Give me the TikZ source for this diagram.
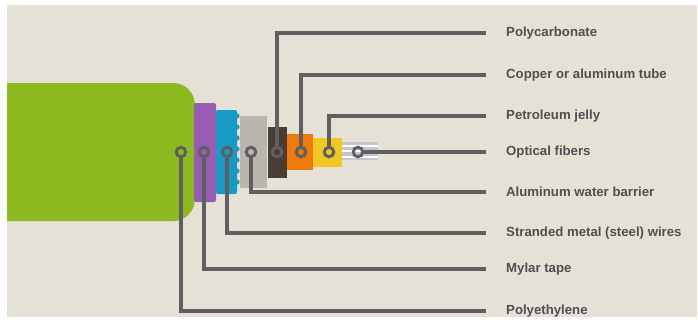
\documentclass[tikz,border=0pt]{standalone}
\usepackage{fontspec}
\setmainfont{Liberation Sans}
\begin{document}
\definecolor{paper}{RGB}{230,225,214}
\definecolor{jacket}{RGB}{141,186,30}
\definecolor{mylar}{RGB}{152,92,180}
\definecolor{steel}{RGB}{22,155,196}
\definecolor{alu}{RGB}{186,181,170}
\definecolor{polyc}{RGB}{74,62,52}
\definecolor{tube}{RGB}{240,121,12}
\definecolor{jelly}{RGB}{240,200,32}
\definecolor{fiber}{RGB}{196,198,204}
\definecolor{leader}{RGB}{95,95,97}
\definecolor{ink}{RGB}{80,80,80}
\begin{tikzpicture}[x=1pt,y=-1pt,
  ring/.style={circle,draw=leader,line width=3pt,minimum size=9.5pt,inner sep=0pt},
  lead/.style={draw=leader,line width=3.1pt},
  tag/.style={anchor=west,inner sep=0pt,text=ink,font=\bfseries\fontsize{13.2}{15}\selectfont}]
\useasboundingbox (0,0) rectangle (698,321);
\fill[white] (0,0) rectangle (698,321);
\fill[paper] (7,5) rectangle (697,317);

% cable layers, outermost to innermost
\fill[jacket] (7,83) [rounded corners=22pt] -- (195,83) -- (195,221) [sharp corners] -- (7,221) -- cycle;
\fill[mylar, rounded corners=2pt] (194,103) rectangle (216,202);
\fill[steel, rounded corners=2pt] (216,110) rectangle (237,194);
\foreach \yy in {116,127,138,149,160,171,182} \fill[steel] (237,\yy) circle[radius=2.6];
\fill[alu] (239.5,116) rectangle (267,188);
\fill[polyc] (268,127) rectangle (287,178);
\fill[tube] (287,134) rectangle (313,170);
\fill[jelly] (313,138) rectangle (342,167);
\fill[fiber] (342,142) rectangle (378,160);
\foreach \yy in {145.5,151,156.5} \draw[white,line width=2pt] (342,\yy) -- (378,\yy);

% marker rings
\node[ring] (c1) at (181,152) {};
\node[ring] (c2) at (204,152) {};
\node[ring] (c3) at (227,152) {};
\node[ring] (c4) at (251,152) {};
\node[ring] (c5) at (277,152) {};
\node[ring] (c6) at (301,152) {};
\node[ring] (c7) at (329,152) {};
\node[ring] (c8) at (358,152) {};

% labels
\node[tag] (l5) at (506,33) {Polycarbonate};
\node[tag] (l6) at (506,75) {Copper or aluminum tube};
\node[tag] (l7) at (506,116) {Petroleum jelly};
\node[tag] (l8) at (506,152) {Optical fibers};
\node[tag] (l4) at (506,192) {Aluminum water barrier};
\node[tag] (l3) at (506,233) {Stranded metal (steel) wires};
\node[tag] (l2) at (506,269) {Mylar tape};
\node[tag] (l1) at (506,311) {Polyethylene};

% leader lines
\path[lead] (c5.north) |- ([xshift=-20pt]l5.west);
\path[lead] (c6.north) |- ([xshift=-20pt]l6.west);
\path[lead] (c7.north) |- ([xshift=-20pt]l7.west);
\path[lead] (c8.east) -- ([xshift=-20pt]l8.west);
\path[lead] (c4.south) |- ([xshift=-20pt]l4.west);
\path[lead] (c3.south) |- ([xshift=-20pt]l3.west);
\path[lead] (c2.south) |- ([xshift=-20pt]l2.west);
\path[lead] (c1.south) |- ([xshift=-20pt]l1.west);
\end{tikzpicture}
\end{document}
